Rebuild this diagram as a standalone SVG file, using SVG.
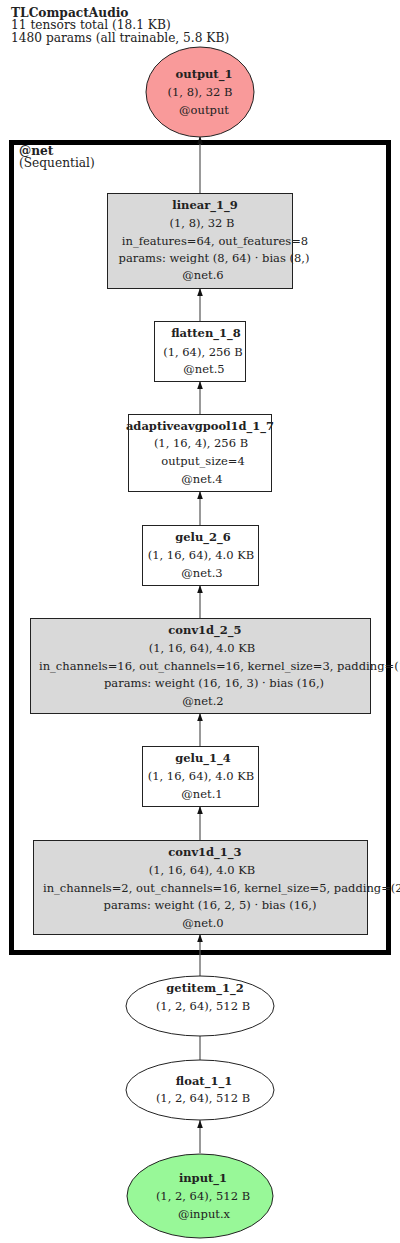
<svg xmlns="http://www.w3.org/2000/svg" width="400" height="1243" viewBox="0 0 400 1243">
<defs>
<style>
text{font-family:"DejaVu Serif","Liberation Serif",serif;font-size:11.5px;fill:#222;text-anchor:middle}
.b{font-weight:bold}
.l{text-anchor:start}
.h{font-size:12.2px}
.box{fill:#fff;stroke:#222;stroke-width:1}
.gray{fill:#d9d9d9;stroke:#222;stroke-width:1}
.edge{stroke:#555;stroke-width:1.2;fill:none}
</style>
<marker id="ah" viewBox="0 0 10 10" refX="10" refY="5" markerWidth="8" markerHeight="8" orient="auto" markerUnits="userSpaceOnUse">
<path d="M0,1.5 L10,5 L0,8.5 z" fill="#111"/>
</marker>
</defs>
<rect width="400" height="1243" fill="#fff"/>
<g id="title">
<text class="b l h" x="11" y="17">TLCompactAudio</text>
<text class="l h" x="11" y="29">11 tensors total (18.1 KB)</text>
<text class="l h" x="11" y="42">1480 params (all trainable, 5.8 KB)</text>
</g>
<g id="cluster_net">
<rect x="11.5" y="142.5" width="377" height="810" fill="none" stroke="#000" stroke-width="5"/>
<text class="b l h" x="19" y="155">@net</text>
<text class="l h" x="19" y="167">(Sequential)</text>
</g>
<g id="connectors">
<line class="edge" x1="200" y1="193" x2="200" y2="136" marker-end="url(#ah)"/>
<line class="edge" x1="200" y1="321" x2="200" y2="288" marker-end="url(#ah)"/>
<line class="edge" x1="200" y1="414" x2="200" y2="381" marker-end="url(#ah)"/>
<line class="edge" x1="200" y1="525" x2="200" y2="491" marker-end="url(#ah)"/>
<line class="edge" x1="200" y1="618" x2="200" y2="585" marker-end="url(#ah)"/>
<line class="edge" x1="200" y1="746" x2="200" y2="713" marker-end="url(#ah)"/>
<line class="edge" x1="200" y1="840" x2="200" y2="806" marker-end="url(#ah)"/>
<line class="edge" x1="200" y1="976" x2="200" y2="934" marker-end="url(#ah)"/>
<line class="edge" x1="200" y1="1060" x2="200" y2="1027" marker-end="url(#ah)"/>
<line class="edge" x1="200" y1="1153" x2="200" y2="1120" marker-end="url(#ah)"/>
</g>
<g id="output_1">
<ellipse cx="200" cy="92" rx="54" ry="45" fill="#f99a9a" stroke="#222"/>
<text class="b" x="204" y="78">output_1</text>
<text x="200" y="96">(1, 8), 32 B</text>
<text x="204" y="114">@output</text>
</g>
<g id="linear_1_9">
<rect class="gray" x="107.5" y="193.5" width="185" height="95"/>
<text class="b" x="205" y="209">linear_1_9</text>
<text x="202" y="227">(1, 8), 32 B</text>
<text x="215" y="245">in_features=64, out_features=8</text>
<text x="214" y="262">params: weight (8, 64) · bias (8,)</text>
<text x="203" y="279">@net.6</text>
</g>
<g id="flatten_1_8">
<rect class="box" x="154.5" y="321.5" width="91" height="60"/>
<text class="b" x="206" y="337">flatten_1_8</text>
<text x="203" y="356">(1, 64), 256 B</text>
<text x="204" y="373">@net.5</text>
</g>
<g id="adaptiveavgpool1d_1_7">
<rect class="box" x="128.5" y="414.5" width="143" height="77"/>
<text class="b" x="200" y="430">adaptiveavgpool1d_1_7</text>
<text x="201" y="447">(1, 16, 4), 256 B</text>
<text x="203" y="465">output_size=4</text>
<text x="202" y="483">@net.4</text>
</g>
<g id="gelu_2_6">
<rect class="box" x="142.5" y="525.5" width="116" height="60"/>
<text class="b" x="203" y="541">gelu_2_6</text>
<text x="201" y="559">(1, 16, 64), 4.0 KB</text>
<text x="202" y="577">@net.3</text>
</g>
<g id="conv1d_2_5">
<rect class="gray" x="30.5" y="618.5" width="340" height="95"/>
<text class="b" x="205" y="634">conv1d_2_5</text>
<text x="202" y="652">(1, 16, 64), 4.0 KB</text>
<text class="l" x="39" y="670">in_channels=16, out_channels=16, kernel_size=3, padding=(1,)</text>
<text x="214" y="687">params: weight (16, 16, 3) · bias (16,)</text>
<text x="203" y="705">@net.2</text>
</g>
<g id="gelu_1_4">
<rect class="box" x="142.5" y="746.5" width="116" height="60"/>
<text class="b" x="203" y="762">gelu_1_4</text>
<text x="201" y="780">(1, 16, 64), 4.0 KB</text>
<text x="202" y="798">@net.1</text>
</g>
<g id="conv1d_1_3">
<rect class="gray" x="33.5" y="840.5" width="334" height="94"/>
<text class="b" x="205" y="856">conv1d_1_3</text>
<text x="202" y="874">(1, 16, 64), 4.0 KB</text>
<text class="l" x="43" y="892">in_channels=2, out_channels=16, kernel_size=5, padding=(2,)</text>
<text x="210" y="909">params: weight (16, 2, 5) · bias (16,)</text>
<text x="203" y="927">@net.0</text>
</g>
<g id="getitem_1_2">
<ellipse cx="200" cy="1006" rx="74" ry="30" fill="#fff" stroke="#222"/>
<text class="b" x="205" y="992">getitem_1_2</text>
<text x="203" y="1010">(1, 2, 64), 512 B</text>
</g>
<g id="float_1_1">
<ellipse cx="200" cy="1090" rx="74" ry="30" fill="#fff" stroke="#222"/>
<text class="b" x="204" y="1085">float_1_1</text>
<text x="203" y="1102">(1, 2, 64), 512 B</text>
</g>
<g id="input_1">
<ellipse cx="200" cy="1196" rx="73" ry="42" fill="#98f898" stroke="#222"/>
<text class="b" x="203" y="1182">input_1</text>
<text x="203" y="1200">(1, 2, 64), 512 B</text>
<text x="204" y="1218">@input.x</text>
</g>
</svg>
